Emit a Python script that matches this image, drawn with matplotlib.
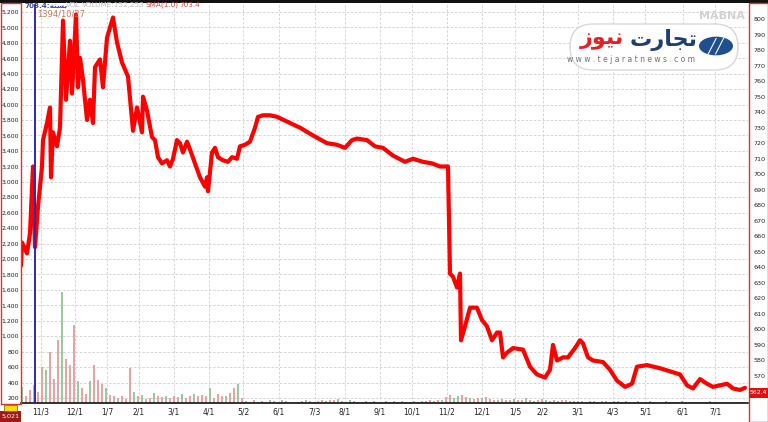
import matplotlib
matplotlib.use('Agg')
import matplotlib.pyplot as plt
from matplotlib.patches import Rectangle, FancyBboxPatch, Circle
from matplotlib.ticker import FuncFormatter, FixedLocator

# ---------------- data ----------------
day = [1.5, 2, 4.5, 6, 7.5, 8.5, 10, 12, 12.5, 14.5, 16, 16.5, 17.5, 19.5, 21, 22.5,
       24, 26, 27, 29, 30, 31, 32.5, 34.5, 36, 37.5, 38.5, 41, 42.5, 44.5, 47.5, 49.5,
       52, 55, 57.5, 59.5, 62, 62.5, 64.5, 67, 68.5, 70, 72, 74.5, 76, 77.5, 79.5, 81,
       82.5, 84.5, 86, 88.5, 91, 93.5, 94.5, 95, 97, 98.5, 100, 102.5, 105, 107, 109.5,
       111, 113.5, 116, 118.5, 120, 122.5, 126, 129.5, 136, 141, 147.5, 154.5, 159.5,
       163.5, 167, 169.5, 174.5, 178.5, 182.5, 187.5, 193.5, 197.5, 202.5, 207, 211,
       215, 216, 217.5, 219.5, 221, 221.5, 223.5, 226, 229.5, 232, 234.5, 237, 239.5,
       241, 242.5, 244.5, 247.5, 252.5, 256, 259.5, 263.5, 266, 267.5, 269.5, 272.5,
       275, 278.5, 281, 282.5, 285, 287.5, 292.5, 296, 299.5, 303.5, 307, 309.5, 314.5,
       321, 326, 331, 334.5, 337.5, 341, 344.5, 347.5, 351, 354.5, 357.5, 361, 363.5]
price = [641, 656, 649, 662, 705, 653, 679, 705, 722, 733, 743, 698, 727, 718, 730, 799,
         748, 786, 752, 803, 756, 775, 761, 735, 748, 733, 769, 774, 756, 788, 801, 785,
         772, 763, 728, 743, 727, 750, 741, 724, 722, 711, 707, 709, 705, 710, 722, 720,
         714, 721, 716, 707, 698, 692, 698, 689, 714, 717, 711, 709, 708, 711, 710, 718,
         719, 721, 730, 737, 738, 738, 737, 733, 730, 725, 720, 719, 717, 722, 723, 722,
         718, 717, 712, 708, 710, 708, 707, 705, 705, 636, 634, 627, 636, 593, 602, 614,
         614, 606, 602, 593, 598, 598, 582, 585, 588, 587, 576, 571, 569, 574, 590, 580,
         582, 582, 588, 593, 591, 582, 580, 579, 574, 567, 563, 565, 576, 577, 575, 573,
         571, 564, 562, 568, 565, 563, 564, 565, 562, 561, 562.4]

vol_day = list(range(0, 364, 2))
volume = [250, 340, 220, 300, 370, 280, 600, 560, 800, 450,
          950, 1570, 700, 630, 1150, 420, 330, 250, 420, 630,
          430, 380, 330, 240, 220, 200, 230, 190, 590, 280,
          220, 240, 190, 200, 270, 230, 210, 230, 200, 230,
          210, 250, 200, 230, 250, 220, 240, 220, 330, 200,
          250, 220, 230, 260, 330, 380, 200, 160, 150, 170,
          150, 160, 145, 170, 165, 150, 180, 160, 150, 145,
          150, 160, 170, 155, 150, 165, 175, 160, 180, 170,
          185, 160, 150, 170, 160, 150, 145, 155, 150, 160,
          150, 145, 160, 150, 155, 150, 160, 145, 150, 155,
          150, 160, 155, 170, 160, 180, 175, 210, 240, 200,
          230, 240, 210, 200, 190, 205, 195, 215, 185, 180,
          175, 190, 180, 170, 185, 175, 180, 200, 170, 165,
          175, 185, 170, 165, 175, 160, 170, 180, 165, 160,
          155, 160, 150, 165, 155, 150, 160, 155, 150, 165,
          160, 150, 155, 145, 150, 160, 150, 145, 155, 150,
          145, 150, 155, 150, 145, 150, 155, 145, 150, 145,
          150, 145, 150, 155, 145, 150, 145, 150, 145, 150,
          145, 150]
vol_dir = ("rgrrrrrgrr" "rgrrrgrrgr" "rrgrrgrrrg" "rgrrgrrgrr" "rgrrgrrrgr"
           "rrgrrgrgrr" "grrgrrgrrg" "rrgrgrrgrr" "grrgrrrgrg" "rrgrrgrrgr"
           "rgrrgrgrrg" "grrgrrgrrr" "rgrrgrrgrg" "rrgrrgrrgr" "grrgrrgrrg"
           "rrgrgrrgrr" "grrgrrgrrg" "rgrrgrrgrr" "rg")

tick_days = [11.35, 28.5, 44.5, 60.5, 78, 95.5, 112.5, 130.5, 148.5, 163.5, 181,
             197, 214.5, 232, 248.5, 262.5, 280, 297.5, 313.5, 332.5, 348.5]
tick_labels = ['11/3', '12/1', '1/7', '2/1', '3/1', '4/1', '5/2', '6/1', '7/3', '8/1',
               '9/1', '10/1', '11/2', '12/1', '1/5', '2/2', '3/1', '4/3', '5/1', '6/1', '7/1']
left_ticks = list(range(200, 5201, 200))
right_ticks = list(range(570, 801, 10))
cursor_day = 8.5
cursor_date = '1394/10/27'
last_value = 562.4

# ---------------- figure ----------------
W, H = 768, 422
fig = plt.figure(figsize=(W / 100, H / 100), dpi=100)
fig.patch.set_facecolor('white')


def fx(x):
    return x / W


def fy(y):
    return 1 - y / H


ax = fig.add_axes([fx(21), fy(403), 727 / W, 399 / H])
ax.set_xlim(1.5, 365)
ax.set_ylim(135, 5303)

colors = ['#e9a3a3' if c == 'r' else '#9cc99c' for c in vol_dir]
ax.bar(vol_day, volume, width=0.7, color=colors, bottom=0, zorder=2, linewidth=0)

ax.yaxis.set_major_locator(FixedLocator(left_ticks))
ax.yaxis.set_major_formatter(FuncFormatter(lambda v, p: f'{int(v):,}'))
ax.set_xticks(tick_days)
ax.set_xticklabels(tick_labels)
ax.tick_params(axis='y', length=0, labelsize=4.4, colors='#222222', pad=1.5)
ax.tick_params(axis='x', length=0, pad=3, labelsize=5.5, colors='#222222')
ax.grid(True, color='#cfcfcf', linestyle=(0, (3, 2)), linewidth=0.6, zorder=0)
ax.set_axisbelow(True)
for s in ['top', 'left', 'right']:
    ax.spines[s].set_visible(False)
ax.spines['bottom'].set_color('#111111')
ax.spines['bottom'].set_linewidth(1.2)

ax2 = ax.twinx()
ax2.set_ylim(552.6, 809.7)
ax2.set_xlim(1.5, 365)
ax2.plot(day, price, color='#ff0000', linewidth=3.0, solid_joinstyle='round',
         solid_capstyle='round', zorder=3)
ax2.axvline(cursor_day, color='#2a2ab5', linewidth=1.4, zorder=4)
ax2.yaxis.set_major_locator(FixedLocator(right_ticks))
ax2.tick_params(axis='y', length=0, labelsize=4.6, colors='#222222', pad=4)
for s in ['top', 'left', 'right', 'bottom']:
    ax2.spines[s].set_visible(False)

# ---------------- frames and decorations ----------------
fig.add_artist(Rectangle((0, fy(3)), 1, 3 / H, transform=fig.transFigure,
                         facecolor='#111111', edgecolor='none'))
fig.add_artist(Rectangle((fx(0.5), fy(404)), 20 / W, 401 / H, transform=fig.transFigure,
                         facecolor='none', edgecolor='#e03030', linewidth=1.0))
fig.add_artist(Rectangle((fx(748.5), fy(421.5)), 19 / W, 418.5 / H, transform=fig.transFigure,
                         facecolor='none', edgecolor='#e03030', linewidth=1.0))
# bottom-left value box
fig.add_artist(Rectangle((0, 0), 21 / W, 11 / H, transform=fig.transFigure,
                         facecolor='#a01818', edgecolor='none'))
fig.text(fx(10.5), fy(416.5), '5,021', color='white', fontsize=4.6, ha='center',
         va='center')
fig.add_artist(Rectangle((fx(4), fy(411)), 13 / W, 6 / H, transform=fig.transFigure,
                         facecolor='#f0e000', edgecolor='#666600', linewidth=0.5))
# last value box right
fig.add_artist(Rectangle((fx(749), fy(398)), 19 / W, 10 / H, transform=fig.transFigure,
                         facecolor='#e01010', edgecolor='none'))
fig.text(fx(758.5), fy(393), f'{last_value}', color='white', fontsize=4.4, ha='center',
         va='center')

# header texts
fig.text(fx(24), fy(5), '703.4:' + '\uFEEA\uFE98\uFEB4\uFE91', color='#4646a8',
         fontsize=5.2, ha='left', va='center', fontweight='bold')
fig.text(fx(66), fy(5), 'VOL', color='#bdbdbd', fontsize=5.2, ha='left', va='center')
fig.text(fx(82), fy(5), 'VOLUME:152,253', color='#bdbdbd', fontsize=5.2, ha='left',
         va='center')
fig.text(fx(145), fy(5), 'SMA(1.0)', color='#d04848', fontsize=5.2, ha='left', va='center')
fig.text(fx(179), fy(5), '703.4', color='#d04848', fontsize=5.2, ha='left', va='center')
fig.text(fx(37), fy(14), cursor_date, color='#c47a5a', fontsize=6, ha='left', va='center')

# watermark + logo
fig.text(fx(722), fy(16), 'MABNA', color='#d2d2d2', fontsize=8, fontweight='bold',
         ha='center', va='center')
fig.add_artist(FancyBboxPatch((fx(570), fy(70)), 168 / W, 46 / H,
                              boxstyle='round,pad=0,rounding_size=0.03',
                              transform=fig.transFigure, facecolor='white',
                              edgecolor='#d8d8d8', linewidth=1.0, mutation_aspect=W / H))
fig.add_artist(Circle((fx(716), fy(46)), 17 / W, transform=fig.transFigure,
                      facecolor='#1f4f8f', edgecolor='none'))
fig.text(fx(716), fy(46), '\u2571\u2571', color='white', fontsize=10, ha='center',
         va='center', fontweight='bold')
fig.text(fx(698), fy(40), '\uFE95\uFEAD\uFE8E\uFEA0\uFE97', color='#1e3f74', fontsize=16,
         fontweight='bold', ha='right', va='center')
fig.text(fx(624), fy(40), '\uFEAF\uFEEE\uFEF4\uFEE7', color='#e52020', fontsize=16,
         fontweight='bold', ha='right', va='center')
fig.text(fx(631), fy(60), 'w w w . t e j a r a t n e w s . c o m', color='#707070',
         fontsize=5.5, ha='center', va='center')

fig.savefig('out.png', dpi=100, facecolor='white')
